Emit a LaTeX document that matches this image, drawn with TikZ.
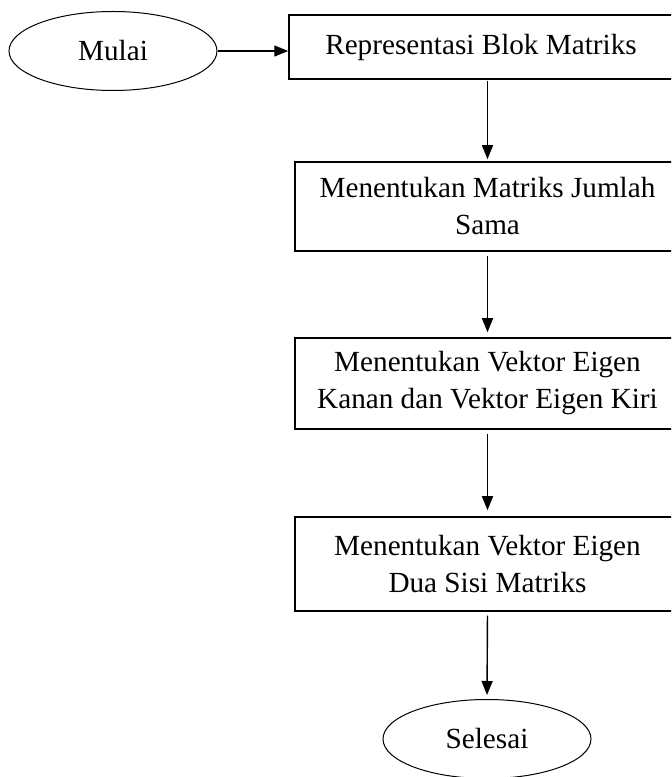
\documentclass[tikz,border=0pt]{standalone}
\usepackage{fontspec}
\setmainfont{Liberation Serif}
\usetikzlibrary{shapes.geometric,arrows.meta}
\tikzset{
  kotak/.style={draw,line width=0.75pt,inner sep=0pt,align=center,font=\fontsize{14.6}{18.5}\selectfont},
  terminal/.style={draw,ellipse,line width=0.5pt,inner sep=0pt,minimum width=104pt,minimum height=39.5pt,font=\fontsize{14.6}{18.5}\selectfont},
  panah/.style={-{Triangle[length=7pt,width=5.5pt]},line width=0.7pt}
}
\begin{document}
\begin{tikzpicture}[x=0.5pt,y=0.5pt]
\useasboundingbox (0,0) rectangle (671,777);
\clip (0,0) rectangle (671,777);
\node[terminal] (mulai) at (113,726) {Mulai};
\node[kotak,minimum width=192pt,minimum height=32pt] (blok) at (481,730) {Representasi Blok Matriks};
\node[kotak,minimum width=192.5pt,minimum height=44.5pt] (jumlah) at (487.5,570.5) {Menentukan Matriks Jumlah\\Sama};
\node[kotak,minimum width=192.5pt,minimum height=45.5pt] (kanankiri) at (487.5,393.5) {Menentukan Vektor Eigen\\Kanan dan Vektor Eigen Kiri};
\node[kotak,minimum width=192.5pt,minimum height=47pt] (duasisi) at (487.5,213) {Menentukan Vektor Eigen\\Dua Sisi Matriks};
\node[terminal] (selesai) at (487,38) {Selesai};
\draw[panah] (mulai.east) -- (mulai.east -| blok.west);
\draw[panah,shorten <=0.5pt,shorten >=1pt] (blok.south -| jumlah.north) -- (jumlah.north);
\draw[panah,shorten <=2pt,shorten >=2.5pt] (jumlah.south) -- (kanankiri.north);
\draw[panah,shorten <=2pt,shorten >=3pt] (kanankiri.south) -- (duasisi.north);
\draw[panah,shorten <=2pt,shorten >=2pt] (duasisi.south) -- (selesai.north);
\end{tikzpicture}
\end{document}
